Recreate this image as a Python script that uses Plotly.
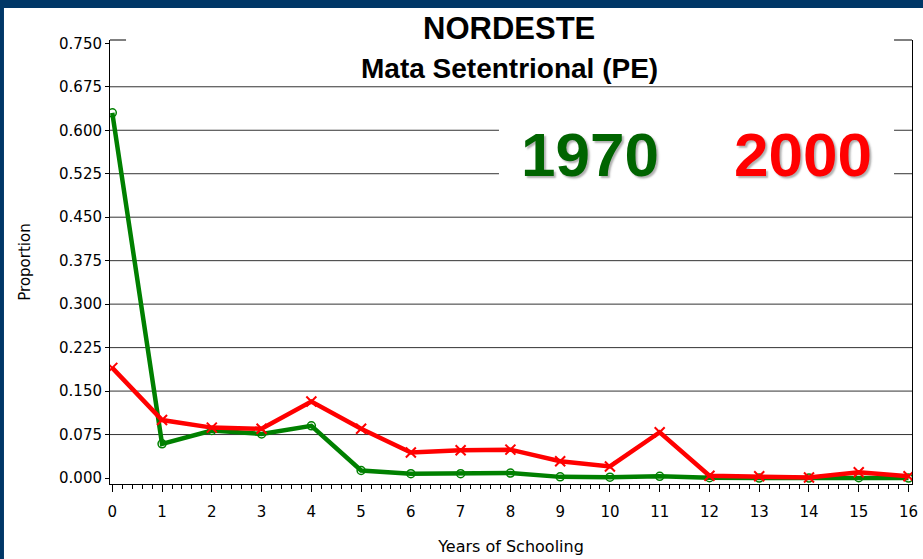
import plotly.graph_objects as go

# ---------------- data ----------------
years = list(range(17))
p1970 = [0.630, 0.059, 0.082, 0.076, 0.090, 0.013, 0.0075, 0.0075, 0.0085, 0.002,
         0.0015, 0.003, 0.0005, 0.0, 0.0, 0.0005, 0.0]
p2000 = [0.190, 0.100, 0.087, 0.085, 0.132, 0.085, 0.044, 0.048, 0.049, 0.029,
         0.020, 0.079, 0.004, 0.003, 0.001, 0.010, 0.003]
y_ticks = [0.000, 0.075, 0.150, 0.225, 0.300, 0.375, 0.450, 0.525, 0.600, 0.675, 0.750]
y_labels = ["%.3f" % v for v in y_ticks]
x_labels = [str(v) for v in years]

title_main = "NORDESTE"
title_sub = "Mata Setentrional (PE)"
label_1970 = "1970"
label_2000 = "2000"

GREEN = "#008000"
RED = "#FF0000"
NAVY = "#003767"
TICKFONT = dict(family="DejaVu Sans", size=15, color="black")

fig = go.Figure()
fig.add_trace(go.Scatter(
    x=years, y=p1970, mode="lines+markers", name="1970",
    line=dict(color=GREEN, width=4.5),
    marker=dict(symbol="circle-open", size=8, color=GREEN, line=dict(width=1.5, color=GREEN)),
))
fig.add_trace(go.Scatter(
    x=years, y=p2000, mode="lines+markers", name="2000",
    line=dict(color=RED, width=4.5),
    marker=dict(symbol="x-thin", size=10, color=RED, line=dict(width=2, color=RED)),
))

shapes = []
# horizontal grid lines (not at 0 or at the top)
for v in y_ticks[1:-1]:
    shapes.append(dict(type="line", xref="paper", yref="y", x0=0, x1=1, y0=v, y1=v,
                       line=dict(color="#333333", width=1), layer="below"))
# white box behind the year labels
shapes.append(dict(type="rect", xref="paper", yref="y", x0=0.485, x1=0.9776, y0=0.48, y1=0.65,
                   fillcolor="white", line=dict(width=0), layer="below"))
# top border segments (interrupted by title)
shapes.append(dict(type="line", xref="paper", yref="paper", x0=0, x1=0.02, y0=1, y1=1,
                   line=dict(color="black", width=1)))
shapes.append(dict(type="line", xref="paper", yref="paper", x0=0.9776, x1=1, y0=1, y1=1,
                   line=dict(color="black", width=1)))
# navy frame
shapes.append(dict(type="rect", xref="paper", yref="paper", x0=-0.3, x1=-0.1322, y0=-0.4, y1=1.3,
                   fillcolor=NAVY, line=dict(width=0)))
shapes.append(dict(type="rect", xref="paper", yref="paper", x0=-0.3, x1=1.1, y0=1.0721, y1=1.3,
                   fillcolor=NAVY, line=dict(width=0)))

annotations = [
    dict(text="<b>%s</b>" % title_main, xref="paper", yref="paper", x=0.498, y=1.026,
         showarrow=False, xanchor="center", yanchor="middle",
         font=dict(family="Liberation Sans, Arial", size=31, color="black")),
    dict(text="<b>%s</b>" % title_sub, xref="paper", yref="paper", x=0.498, y=0.936,
         showarrow=False, xanchor="center", yanchor="middle",
         font=dict(family="Liberation Sans, Arial", size=28, color="black")),
]
for txt, xp, col in [(label_1970, 0.598, "#006400"), (label_2000, 0.864, RED)]:
    annotations.append(dict(text="<b>%s</b>" % txt, xref="paper", yref="paper", x=xp, y=0.741,
                            showarrow=False, xanchor="center", yanchor="middle",
                            font=dict(family="Liberation Sans, Arial", size=62, color=col,
                                      shadow="2px 2px 2px rgba(80,80,80,0.45)")))

fig.update_layout(
    width=923, height=559,
    margin=dict(l=110, r=11, t=40, b=75),
    paper_bgcolor="white", plot_bgcolor="white",
    showlegend=False,
    shapes=shapes, annotations=annotations,
    xaxis=dict(
        range=[-0.046, 16.07], tickmode="array", tickvals=years, ticktext=x_labels,
        ticks="outside", ticklen=7, tickwidth=1, tickcolor="black",
        minor=dict(dtick=0.2, ticks="outside", ticklen=4, tickcolor="black", showgrid=False),
        showline=True, linecolor="black", linewidth=1, showgrid=False, zeroline=False,
        tickfont=TICKFONT, ticklabelstandoff=7, automargin=False,
        title=dict(text="Years of Schooling", font=dict(family="DejaVu Sans", size=16, color="black"), standoff=20),
    ),
    yaxis=dict(
        range=[-0.0103, 0.7557], tickmode="array", tickvals=y_ticks, ticktext=y_labels,
        ticks="outside", ticklen=4, tickwidth=1, tickcolor="black",
        showline=True, mirror=True, linecolor="black", linewidth=1, showgrid=False, zeroline=False,
        tickfont=TICKFONT, automargin=False,
        title=dict(text="Proportion", font=dict(family="DejaVu Sans", size=15, color="black"), standoff=24),
    ),
)

fig.write_html("out.html", config={"displayModeBar": False},
               post_script="document.body.style.margin='0';")
